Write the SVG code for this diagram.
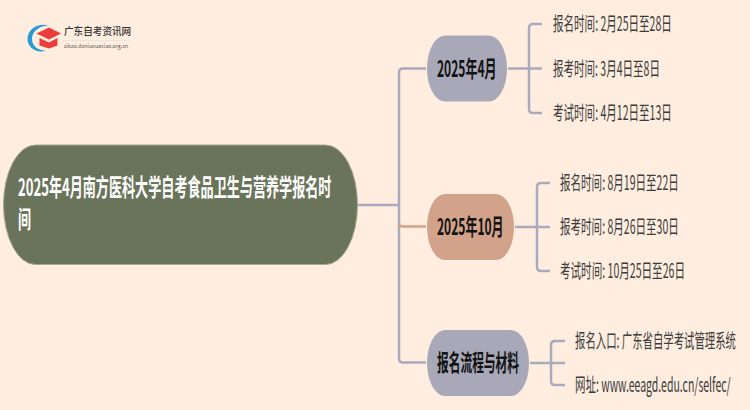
<svg xmlns="http://www.w3.org/2000/svg" width="750" height="410" viewBox="0 0 750 410">
<style>
text{font-family:"Noto Sans CJK SC","Liberation Sans",sans-serif}
.c{fill:none;stroke:#a9aabd;stroke-width:2.5;stroke-linejoin:round}
.k{fill:none;stroke:#a9aabd;stroke-width:2.5}
.o{fill:none;stroke:#d2a28a;stroke-width:2.5}
.n{font-size:22.500px;font-weight:700;fill:#111}
.l{font-size:19.500px;fill:#3c3c3c}
</style>
<rect width="750" height="410" fill="#ffeee0"/>
<g id="connectors">
<path class="c" d="M358 205H399"/>
<path class="c" d="M426 68.500H403Q399 68.500 399 72.500V358.500Q399 362.500 403 362.500H426"/>
<path class="o" d="M426 226.500H403Q399 226.500 399 223"/>
<path class="k" d="M508 68.500H542M542 24H533Q529 24 529 28V109Q529 113 533 113H542"/>
<path class="k" d="M515 227H550M550 183H541Q537 183 537 187V267Q537 271 541 271H550"/>
<path class="k" d="M530 363H565M565 341H555Q551 341 551 345V381Q551 385 555 385H565"/>
</g>
<g id="logo">
<path d="M49 25.500C39 22.500 28.500 28 27.500 38C27 47 36 54 46 50.500C38 51 31.500 45.500 32 38C32.500 31 40 25.500 49 25.500Z" fill="#2a9ad6"/>
<path d="M36.500 33.500L49 27.500L61 33.500L49 39.500Z" fill="#ee3b3b"/>
<path d="M39.500 38L49 42.500L57.500 38V45.500L49 48.500L39.500 45.500Z" fill="#ee3b3b"/>
<text transform="translate(64 35) scale(.96 1)" font-size="10" font-weight="500" fill="#333">广东自考资讯网</text>
<rect x="63" y="40" width="68" height="1" fill="#e8e6e0"/>
<text transform="translate(64 48) scale(.96 1)" font-size="5.500" fill="#555">zikao.daniuxuexiao.org.cn</text>
</g>
<g id="root">
<rect x="3.500" y="145" width="354" height="119.500" rx="32" ry="59.700" fill="#6a745b" stroke="#a8a88f"/>
<text transform="translate(18 196) scale(.557 1)" font-size="23.500" font-weight="700" fill="#fff">2025年4月南方医科大学自考食品卫生与营养学报名时</text>
<text transform="translate(18 228) scale(.557 1)" font-size="23.500" font-weight="700" fill="#fff">间</text>
</g>
<g id="n1">
<rect x="427" y="35.500" width="80" height="66" rx="18" ry="33" fill="#a8a8b9"/>
<text class="n" transform="translate(437 76.500) scale(.535 1)">2025年4月</text>
</g>
<g id="n1a"><text class="l" transform="translate(553 31) scale(.541 1)">报名时间: 2月25日至28日</text></g>
<g id="n1b"><text class="l" transform="translate(553 76) scale(.54 1)">报考时间: 3月4日至8日</text></g>
<g id="n1c"><text class="l" transform="translate(553 120) scale(.541 1)">考试时间: 4月12日至13日</text></g>
<g id="n2">
<rect x="427" y="194" width="87" height="66" rx="18" ry="33" fill="#d2a28a"/>
<text class="n" transform="translate(437 234.500) scale(.535 1)">2025年10月</text>
</g>
<g id="n2a"><text class="l" transform="translate(560 190) scale(.541 1)">报名时间: 8月19日至22日</text></g>
<g id="n2b"><text class="l" transform="translate(560 234) scale(.541 1)">报考时间: 8月26日至30日</text></g>
<g id="n2c"><text class="l" transform="translate(560 278) scale(.542 1)">考试时间: 10月25日至26日</text></g>
<g id="n3">
<rect x="427" y="330" width="102" height="66" rx="18" ry="33" fill="#a8a8b9"/>
<text class="n" transform="translate(437 370.500) scale(.521 1)">报名流程与材料</text>
</g>
<g id="n3a"><text class="l" transform="translate(575 348) scale(.533 1)">报名入口: 广东省自学考试管理系统</text></g>
<g id="n3b"><text class="l" transform="translate(575 392) scale(.538 1)">网址: www.eeagd.edu.cn/selfec/</text></g>
</svg>
